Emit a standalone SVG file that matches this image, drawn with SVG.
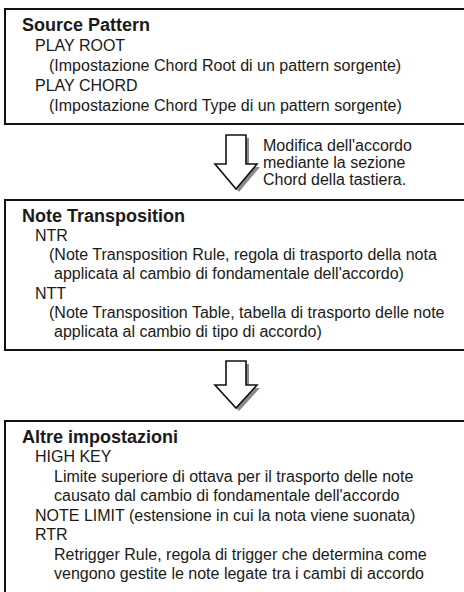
<svg xmlns="http://www.w3.org/2000/svg" width="464" height="592" viewBox="0 0 464 592">
<style>
.box{fill:#fff;stroke:#111;stroke-width:2}
.t{font-family:"Liberation Sans",Arial,sans-serif;font-size:18px;font-weight:bold;fill:#1a1a1a}
.b{font-family:"Liberation Sans",Arial,sans-serif;font-size:16px;fill:#1a1a1a}
.arr{fill:#fff;stroke:#111;stroke-width:1.6;stroke-linejoin:miter}
.sh{fill:#8a8a8a}
</style>
<defs>
<polygon id="arrowA" points="-10,0 10,0 10,29 21,29 0,54 -21,29 -10,29"/>
<polygon id="arrowB" points="-10,0 10,0 10,24 21,24 0,47 -21,24 -10,24"/>
</defs>
<rect width="464" height="592" fill="#fff"/>
<g id="source-pattern">
<rect class="box" x="5" y="9" width="470" height="115"/>
<text class="t" x="22" y="31">Source Pattern</text>
<text class="b" x="35" y="51">PLAY ROOT</text>
<text class="b" x="49" y="71">(Impostazione Chord Root di un pattern sorgente)</text>
<text class="b" x="35" y="91">PLAY CHORD</text>
<text class="b" x="49" y="111">(Impostazione Chord Type di un pattern sorgente)</text>
</g>
<g id="connectors">
<g id="arrow1">
<use href="#arrowA" class="sh" transform="translate(239,138)"/>
<use href="#arrowA" class="arr" transform="translate(236,135)"/>
</g>
<g id="arrow2">
<use href="#arrowB" class="sh" transform="translate(239,364)"/>
<use href="#arrowB" class="arr" transform="translate(236,361)"/>
</g>
<text class="b" x="263" y="151">Modifica dell'accordo</text>
<text class="b" x="263" y="168">mediante la sezione</text>
<text class="b" x="263" y="185">Chord della tastiera.</text>
</g>
<g id="note-transposition">
<rect class="box" x="5" y="200" width="470" height="150"/>
<text class="t" x="22" y="222">Note Transposition</text>
<text class="b" x="35" y="241">NTR</text>
<text class="b" x="49" y="260">(Note Transposition Rule, regola di trasporto della nota</text>
<text class="b" x="54" y="279">applicata al cambio di fondamentale dell'accordo)</text>
<text class="b" x="35" y="299">NTT</text>
<text class="b" x="49" y="318">(Note Transposition Table, tabella di trasporto delle note</text>
<text class="b" x="54" y="337">applicata al cambio di tipo di accordo)</text>
</g>
<g id="altre-impostazioni">
<rect class="box" x="5" y="421" width="470" height="200"/>
<text class="t" x="22" y="443">Altre impostazioni</text>
<text class="b" x="35" y="462">HIGH KEY</text>
<text class="b" x="54" y="482">Limite superiore di ottava per il trasporto delle note</text>
<text class="b" x="54" y="501">causato dal cambio di fondamentale dell'accordo</text>
<text class="b" x="35" y="521">NOTE LIMIT (estensione in cui la nota viene suonata)</text>
<text class="b" x="35" y="540">RTR</text>
<text class="b" x="54" y="560">Retrigger Rule, regola di trigger che determina come</text>
<text class="b" x="54" y="579">vengono gestite le note legate tra i cambi di accordo</text>
</g>
</svg>
